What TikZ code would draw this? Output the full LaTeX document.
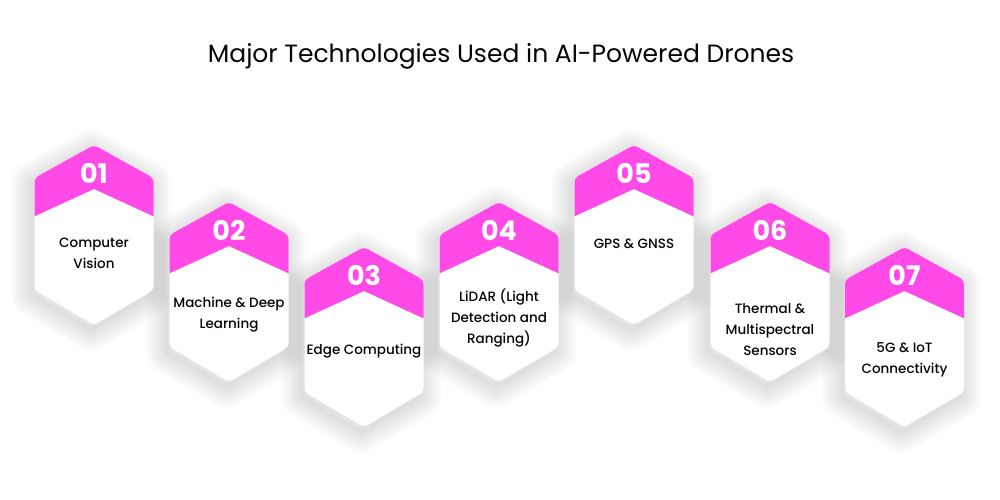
\documentclass[tikz,border=0pt]{standalone}
\usepackage{fontspec}
\setmainfont{Poppins}
\newfontfamily\medfont{Poppins Medium}
\definecolor{mag}{HTML}{FF4AE8}
\definecolor{ink}{HTML}{050505}
\newcommand\hexshape[2]{(#1,#2) -- ++(59.5,33) -- ++(0,112) -- ++(-59.5,35) -- ++(-59.5,-35) -- ++(0,-112) -- cycle}
\tikzset{
  num/.style={font=\fontsize{27}{27}\selectfont\bfseries, text=white, inner sep=0pt},
  lbl/.style={font=\medfont\fontsize{13.5}{21}\selectfont, text=ink, align=center, inner sep=0pt},
  ttl/.style={font=\fontsize{25}{25}\selectfont, text=ink, inner sep=0pt}
}
\begin{document}
\begin{tikzpicture}[x=1pt,y=-1pt]
\useasboundingbox (0,0) rectangle (1000,500);
\fill[white] (0,0) rectangle (1000,500);
\node[ttl] (title) at (501,56) {Major Technologies Used in AI-Powered Drones};
% shadows
\foreach \c/\t in {94/145,229/202,364/247,499/202,634/145,770/202,904.5/247}{
  \foreach \k in {2,6,...,42}{
    \draw[black, opacity=0.011, line width=\k, line join=round] [shift={(-3,5)}] \hexshape{\c}{\t};
  }
}
% hexagons
\foreach \c/\t in {94/145,229/202,364/247,499/202,634/145,770/202,904.5/247}{
  \fill[white, rounded corners=4] \hexshape{\c}{\t};
  \begin{scope}
    \clip[rounded corners=4] \hexshape{\c}{\t};
    \fill[mag] (\c-61,\t-2) -- (\c+61,\t-2) -- (\c+61,\t+72) -- (\c,\t+44) -- (\c-61,\t+72) -- cycle;
  \end{scope}
}
\node[num] (n1) at (94,173) {01};
\node[num] (n2) at (229,230) {02};
\node[num] (n3) at (364,275) {03};
\node[num] (n4) at (499,230) {04};
\node[num] (n5) at (634,173) {05};
\node[num] (n6) at (770,230) {06};
\node[num] (n7) at (904.5,275) {07};
\node[lbl] (l1) at (94,253.5) {Computer\\Vision};
\node[lbl] (l2) at (229,315) {Machine \& Deep\\Learning};
\node[lbl] (l3) at (364,351) {Edge Computing};
\node[lbl] (l4) at (499,318) {LiDAR (Light\\Detection and\\Ranging)};
\node[lbl] (l5) at (634,244) {GPS \& GNSS};
\node[lbl] (l6) at (770,330) {Thermal \&\\Multispectral\\Sensors};
\node[lbl] (l7) at (904.5,360) {5G \& IoT\\Connectivity};
\end{tikzpicture}
\end{document}
